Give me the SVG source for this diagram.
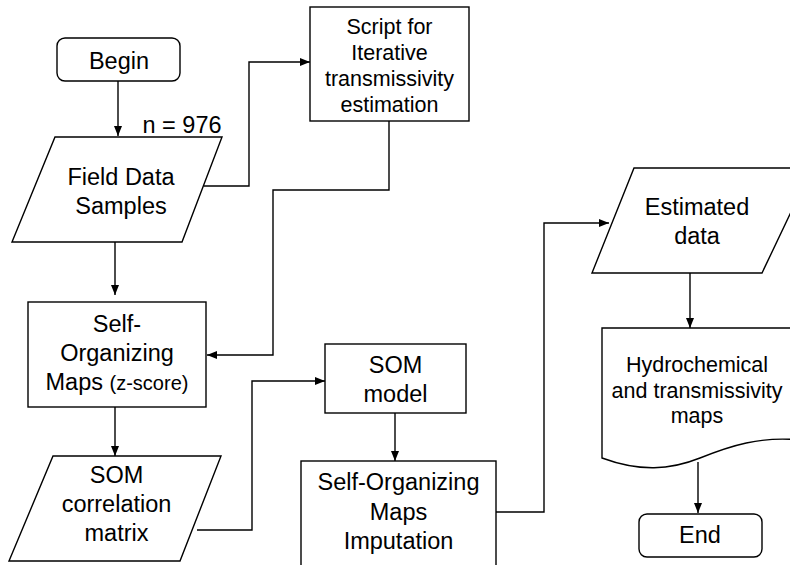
<svg xmlns="http://www.w3.org/2000/svg" width="790" height="565" viewBox="0 0 790 565">
<style>
.s{fill:#fff;stroke:#000;stroke-width:1.4}
.c{fill:none;stroke:#000;stroke-width:1.4}
text{font-family:"Liberation Sans",Arial,sans-serif;fill:#000;text-anchor:middle;font-size:23.5px}
.m{font-size:21.5px}
.z{font-size:20px}
</style>
<defs>
<marker id="a" viewBox="0 0 10 10" refX="10" refY="5" markerWidth="10" markerHeight="10" markerUnits="userSpaceOnUse" orient="auto">
<path d="M0,1 L10,5 L0,9 Z" fill="#000"/>
</marker>
</defs>
<rect width="790" height="565" fill="#fff"/>
<g id="connectors">
<path class="c" d="M118,81 V136" marker-end="url(#a)"/>
<path class="c" d="M204,186 H249 V62 H310" marker-end="url(#a)"/>
<path class="c" d="M389,121 V190 H273 V355 H207" marker-end="url(#a)"/>
<path class="c" d="M115,242 V295" marker-end="url(#a)"/>
<path class="c" d="M115,407 V456" marker-end="url(#a)"/>
<path class="c" d="M197,530 H252 V381 H325" marker-end="url(#a)"/>
<path class="c" d="M395,413 V461" marker-end="url(#a)"/>
<path class="c" d="M496,512 H544 V223 H609" marker-end="url(#a)"/>
<path class="c" d="M690,273 V328" marker-end="url(#a)"/>
<path class="c" d="M698,462 V513" marker-end="url(#a)"/>
</g>
<g id="begin">
<rect class="s" x="57" y="38" width="123" height="43" rx="8"/>
<text x="119" y="69">Begin</text>
</g>
<g id="n-label">
<text x="182" y="133">n = 976</text>
</g>
<g id="field-data">
<path class="s" d="M55,137 H222 L182,242 H12 Z"/>
<text x="121" y="185">Field Data</text>
<text x="121" y="214">Samples</text>
</g>
<g id="script">
<rect class="s" x="310" y="7" width="159" height="114"/>
<text class="m" x="389.5" y="34">Script for</text>
<text class="m" x="389.5" y="60">Iterative</text>
<text class="m" x="389.5" y="86">transmissivity</text>
<text class="m" x="389.5" y="112">estimation</text>
</g>
<g id="som">
<rect class="s" x="28" y="302" width="178" height="105"/>
<text x="117" y="332">Self-</text>
<text x="117" y="361">Organizing</text>
<text x="117" y="390">Maps <tspan class="z">(z-score)</tspan></text>
</g>
<g id="som-corr">
<path class="s" d="M53,456 H221 L180,561 H9 Z"/>
<text x="116.5" y="483">SOM</text>
<text x="116.5" y="512">correlation</text>
<text x="116.5" y="541">matrix</text>
</g>
<g id="som-model">
<rect class="s" x="325" y="344" width="141" height="69"/>
<text x="395.5" y="373">SOM</text>
<text x="395.5" y="402">model</text>
</g>
<g id="imputation">
<rect class="s" x="301" y="461" width="195" height="120"/>
<text x="398.5" y="490">Self-Organizing</text>
<text x="398.5" y="520">Maps</text>
<text x="398.5" y="549">Imputation</text>
</g>
<g id="estimated">
<path class="s" d="M634,168 H812 L762,273 H592 Z"/>
<text x="697" y="215">Estimated</text>
<text x="697" y="244">data</text>
</g>
<g id="maps">
<path class="s" d="M602,328 H800 V440 C760,436 730,446 700,458 C670,470 640,472 602,458 Z"/>
<text class="m" x="697" y="372">Hydrochemical</text>
<text class="m" x="697" y="398">and transmissivity</text>
<text class="m" x="697" y="423">maps</text>
</g>
<g id="end">
<rect class="s" x="639" y="514" width="123" height="43" rx="8"/>
<text x="700" y="543">End</text>
</g>
</svg>
